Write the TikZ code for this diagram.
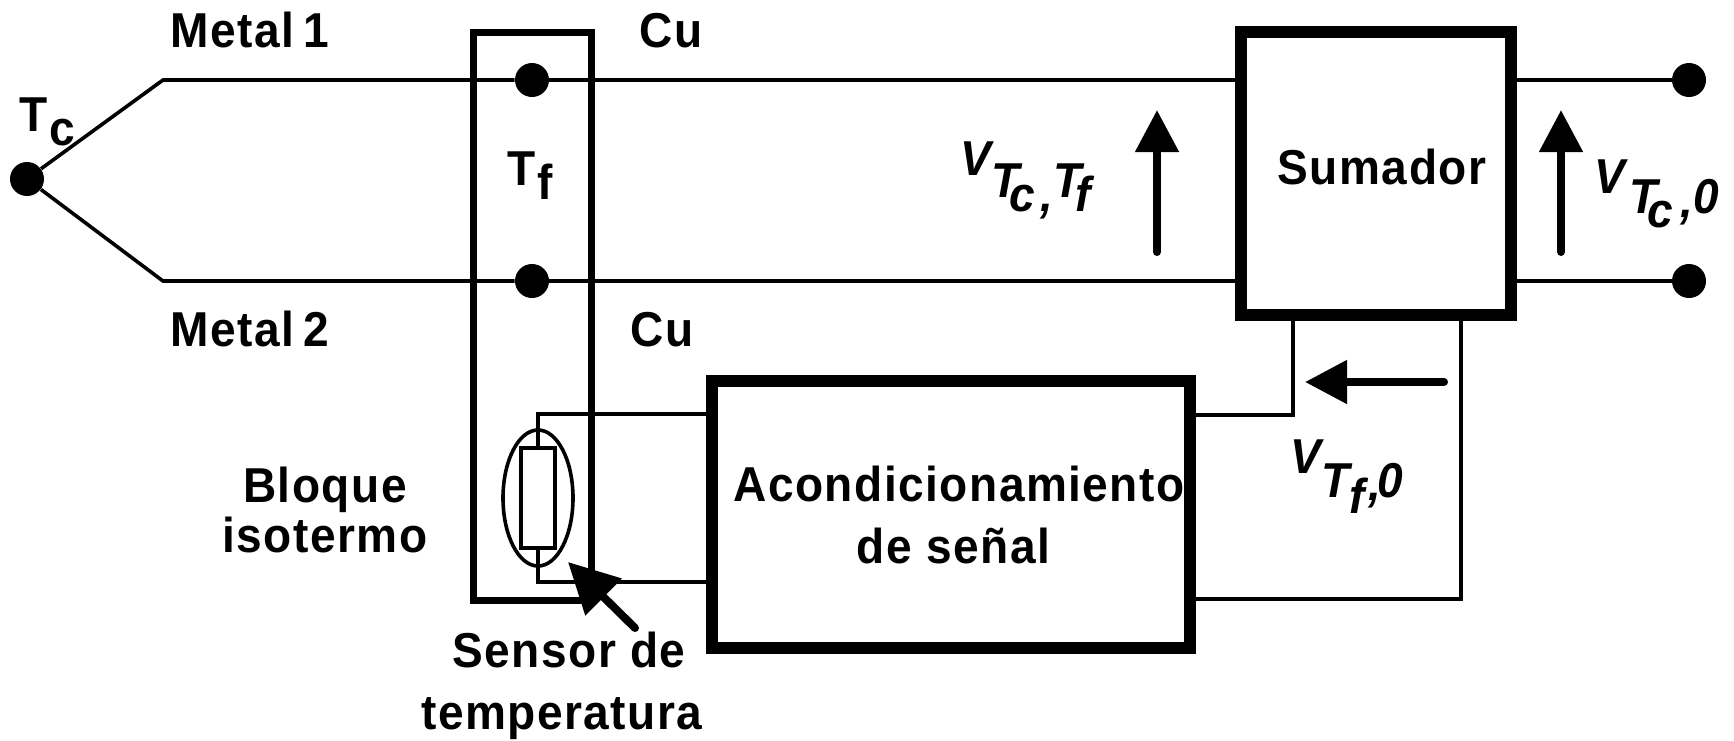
\documentclass[tikz,border=0pt]{standalone}
\usepackage{fontspec}
\setmainfont{Liberation Sans}[FakeStretch=0.94, LetterSpace=3]
\usetikzlibrary{arrows.meta,shapes.geometric}
\newcommand{\bajar}[2]{\raisebox{-#1}{#2}}
\begin{document}
\begin{tikzpicture}[x=0.5pt, y=-0.5pt,
    >={Triangle[length=21pt,width=21pt]},
    hilo/.style={line width=1.8pt},
    marco/.style={draw, line width=6pt, inner sep=0pt},
    punto/.style={circle, fill=black, minimum size=17pt, inner sep=0pt},
    flecha/.style={->, line width=4pt, line cap=round},
    texto/.style={inner sep=0pt, anchor=base west, font=\fontsize{24.5}{25}\selectfont\bfseries},
    centrado/.style={inner sep=0pt, anchor=center, align=center, font=\fontsize{24.5}{25}\selectfont\bfseries},
    volt/.style={inner sep=0pt, anchor=base west, font=\fontsize{24.5}{25}\selectfont\bfseries\itshape}]
    \useasboundingbox (0,0) rectangle (1734,740);
    % Bloques
    \node[marco, line width=3.5pt, minimum width=59pt, minimum height=284pt] (bloque) at (532,316) {};
    \node[marco, minimum width=135pt, minimum height=141.5pt] (sumador) at (1376,173.5) {};
    \node[marco, minimum width=239pt, minimum height=133.5pt] (acond) at (951,514.5) {};
    % Puntos
    \node[punto] (tc) at (27,179) {};
    \node[punto] (p1) at (532,80) {};
    \node[punto] (p2) at (532,281) {};
    \node[punto] (s1) at (1689,80) {};
    \node[punto] (s2) at (1689,281) {};
    % Termopar
    \coordinate (codo1) at (163,80);
    \coordinate (codo2) at (163,281);
    \draw[hilo] (tc) -- (codo1) -- (p1);
    \draw[hilo] (tc) -- (codo2) -- (p2);
    \draw[hilo] (p1) -- (p1 -| sumador.west);
    \draw[hilo] (p2) -- (p2 -| sumador.west);
    \draw[hilo] (s1 -| sumador.east) -- (s1);
    \draw[hilo] (s2 -| sumador.east) -- (s2);
    % Sensor
    \node[draw, ellipse, line width=1.8pt, minimum width=35pt, minimum height=68pt, inner sep=0pt] (elipse) at (538,498) {};
    \node[draw, line width=2pt, minimum width=17pt, minimum height=50pt, inner sep=0pt] (sensor) at (538,498) {};
    \coordinate (c1) at (538,414);
    \coordinate (c2) at (538,582);
    \draw[hilo] (sensor.north) -- (c1) -- (c1 -| acond.west);
    \draw[hilo] (sensor.south) -- (c2) -- (c2 -| acond.west);
    % Salidas del acondicionamiento
    \coordinate (c3) at (1293,415);
    \coordinate (c4) at (1461,599);
    \draw[hilo] (acond.east |- c3) -- (c3) -- (c3 |- sumador.south);
    \draw[hilo] (acond.east |- c4) -- (c4) -- (c4 |- sumador.south);
    % Flechas
    \coordinate (a1) at (1157,252);
    \coordinate (a2) at (1157,110);
    \coordinate (b1) at (1561,252);
    \coordinate (b2) at (1561,110);
    \coordinate (d1) at (1444,382);
    \coordinate (d2) at (1305,382);
    \coordinate (e1) at (635,628);
    \coordinate (e2) at (568,562);
    \draw[flecha] (a1) -- (a2);
    \draw[flecha] (b1) -- (b2);
    \draw[flecha] (d1) -- (d2);
    \draw[flecha, -{Triangle[length=25pt,width=25pt]}] (e1) -- (e2);
    % Textos
    \node[texto] (metal1) at (170,47) {Metal\kern4.5pt 1};
    \node[texto] (metal2) at (170,346) {Metal\kern4.5pt 2};
    \node[texto] (cu1) at (639,47) {Cu};
    \node[texto] (cu2) at (630,346) {Cu};
    \node[texto] (ttc) at (19,131) {T\kern1pt\bajar{7pt}{c}};
    \node[texto] (ttf) at (507,185) {T\kern1pt\bajar{7pt}{f}};
    \node[centrado] (txtsum) at (1382,167) {Sumador};
    \node[centrado] (txtacond) at (959,515) {Acondicionamiento\\[6pt]de señal\hspace*{5.5pt}};
    \node[centrado] (txtbloque) at (325,510) {Bloque\\isotermo};
    \node[centrado] (txtsensor) at (562,686) {\hspace*{7pt}Sensor de\\[6pt]temperatura};
    \node[volt] (vtctf) at (960,175) {V\bajar{11pt}{T\kern-5pt\bajar{7pt}{c\kern3pt,}T\kern-3pt\bajar{7pt}{f}}};
    \node[volt] (vtc0) at (1594,193) {V\kern2pt\bajar{10pt}{T\kern-5pt\bajar{7pt}{c}\kern4pt\bajar{2pt}{,}0}};
    \node[volt] (vtf0) at (1290,473) {V\bajar{12pt}{T\bajar{8pt}{f}\kern2pt\bajar{1.5pt}{,}\kern-2pt 0}};
\end{tikzpicture}
\end{document}
